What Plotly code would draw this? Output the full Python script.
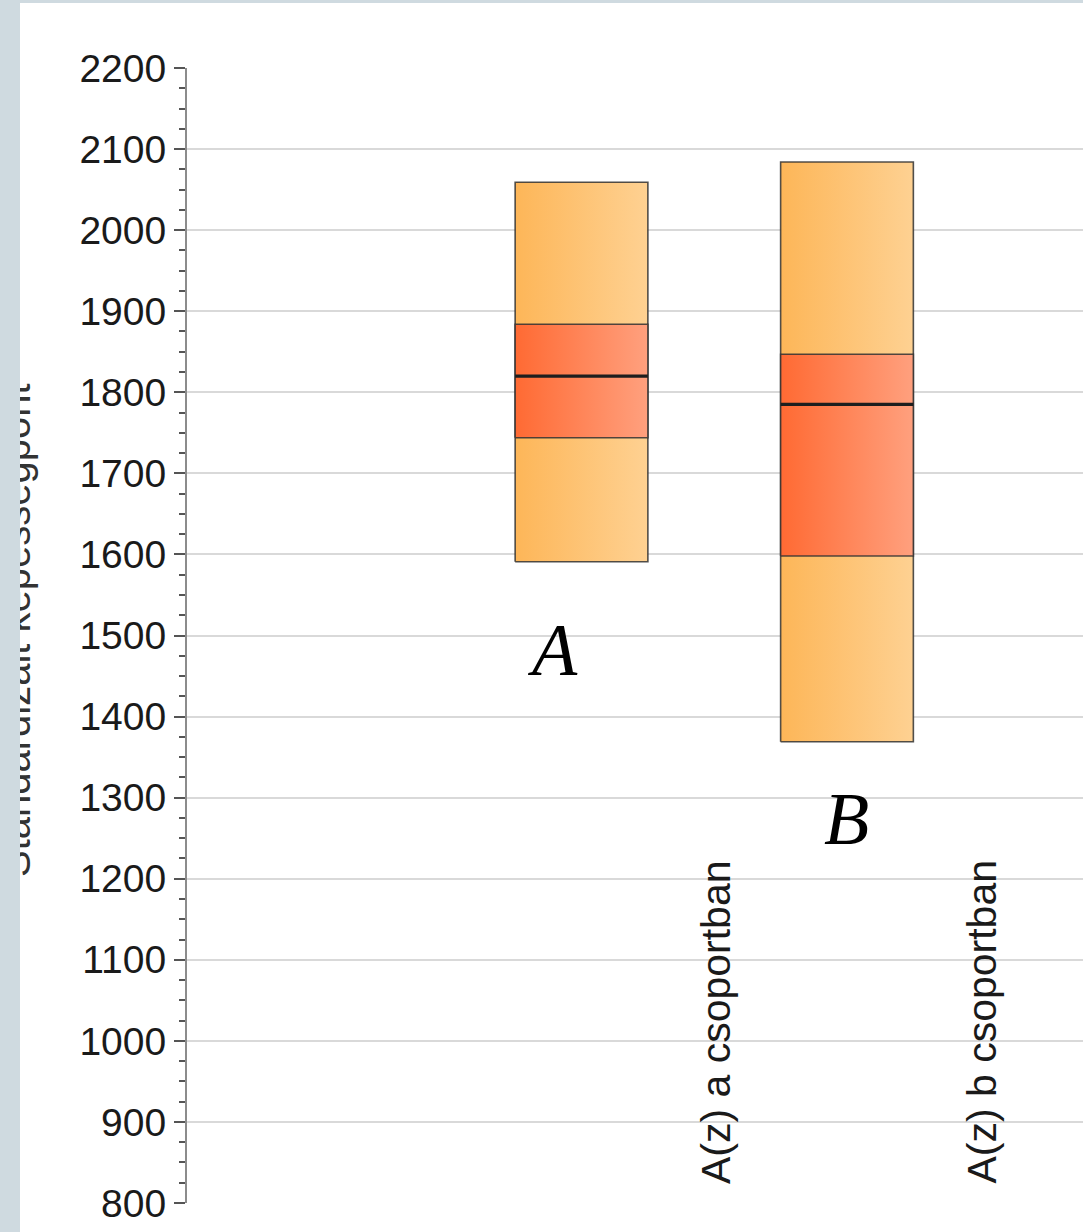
import plotly.graph_objects as go

# ---- data ----
categories = ["A(z) a csoportban", "A(z) b csoportban"]
box_letters = ["A", "B"]
mins = [1591, 1369]
q1s = [1744, 1598]
medians = [1820, 1785]
q3s = [1884, 1847]
maxs = [2059, 2084]

y_range = [800, 2200]
y_title = "Standardizált képességpont"

# ---- style ----
FONT = "Liberation Sans, Arial, sans-serif"
OUTER_GRAD = [[0, "#fdb658"], [1, "#fed192"]]
INNER_GRAD = [[0, "#ff6a33"], [1, "#ffa07e"]]
EDGE = "rgba(50,50,50,0.85)"
BOX_W = 0.5
LABEL_OFFSET = 0.507

fig = go.Figure()

for i, cat in enumerate(categories):
    c = i + 1
    x0, x1 = c - BOX_W / 2, c + BOX_W / 2
    # outer (min-max)
    fig.add_trace(go.Scatter(
        x=[x0, x1, x1, x0, x0], y=[mins[i], mins[i], maxs[i], maxs[i], mins[i]],
        mode="lines", fill="toself",
        fillgradient=dict(type="horizontal", colorscale=OUTER_GRAD),
        line=dict(color=EDGE, width=1.6), showlegend=False, hoverinfo="skip"))
    # inner (q1-q3)
    fig.add_trace(go.Scatter(
        x=[x0, x1, x1, x0, x0], y=[q1s[i], q1s[i], q3s[i], q3s[i], q1s[i]],
        mode="lines", fill="toself",
        fillgradient=dict(type="horizontal", colorscale=INNER_GRAD),
        line=dict(color=EDGE, width=1.6), showlegend=False, hoverinfo="skip"))
    # median
    fig.add_trace(go.Scatter(
        x=[x0, x1], y=[medians[i], medians[i]], mode="lines",
        line=dict(color="#1e1e1e", width=3.2), showlegend=False, hoverinfo="skip"))

annotations = []
# category labels (rotated, inside plot area)
for i, cat in enumerate(categories):
    annotations.append(dict(
        x=i + 1 + LABEL_OFFSET, y=y_range[0], xref="x", yref="y",
        text=cat, textangle=-90, showarrow=False, yanchor="bottom", xanchor="center",
        yshift=18, borderpad=0, font=dict(family=FONT, size=41, color="#1a1a1a")))

# letter labels
letter_pos = [(0.889, 1482), (2.0, 1274)]
for (lx, ly), letter in zip(letter_pos, box_letters):
    annotations.append(dict(
        x=lx, y=ly, xref="x", yref="y", text="<i>%s</i>" % letter, showarrow=False,
        xanchor="center", yanchor="middle",
        font=dict(family="Liberation Serif, DejaVu Serif, serif", size=74, color="#000")))

# y-axis title (partly hidden by left frame)
annotations.append(dict(
    x=(16 - 187) / 896, y=(1203 - 630) / 1135, xref="paper", yref="paper",
    text=y_title, textangle=-90, showarrow=False, xanchor="center", yanchor="middle",
    font=dict(family=FONT, size=40, color="#333")))

# left grey frame strip (covers the title)
annotations.append(dict(
    x=(0 - 187) / 896, y=1203 / 1135, xref="paper", yref="paper",
    text=" ", showarrow=False, xanchor="left", yanchor="top",
    width=20, height=1232, bgcolor="#cfdae0", borderpad=0, borderwidth=0,
    font=dict(size=2)))

shapes = [dict(type="rect", xref="paper", yref="paper",
               x0=(0 - 187) / 896, x1=1.0, y0=(1203 - 3) / 1135, y1=1203 / 1135 + 0.01,
               fillcolor="#cfdae0", line=dict(width=0), layer="above")]

fig.update_layout(
    width=1083, height=1232,
    margin=dict(l=187, r=0, t=68, b=29, pad=0),
    paper_bgcolor="white", plot_bgcolor="white",
    annotations=annotations, shapes=shapes,
    xaxis=dict(range=[-0.486, 2.889], showgrid=False, zeroline=False,
               showticklabels=False, showline=False, ticks=""),
    yaxis=dict(range=y_range, dtick=100, tick0=800,
               showgrid=True, gridcolor="#d9d9d9", gridwidth=2,
               zeroline=False, showline=True, linecolor="#8c8c8c", linewidth=2,
               ticks="outside", ticklen=11, tickwidth=2, tickcolor="#555",
               ticklabelstandoff=0,
               tickfont=dict(family=FONT, size=39, color="#1a1a1a"),
               minor=dict(dtick=25, tick0=800, ticks="outside", ticklen=6,
                          tickwidth=2, tickcolor="#555", showgrid=False)),
)

fig.write_html("out.html", config={"displayModeBar": False},
               post_script="document.body.style.margin='0';")
